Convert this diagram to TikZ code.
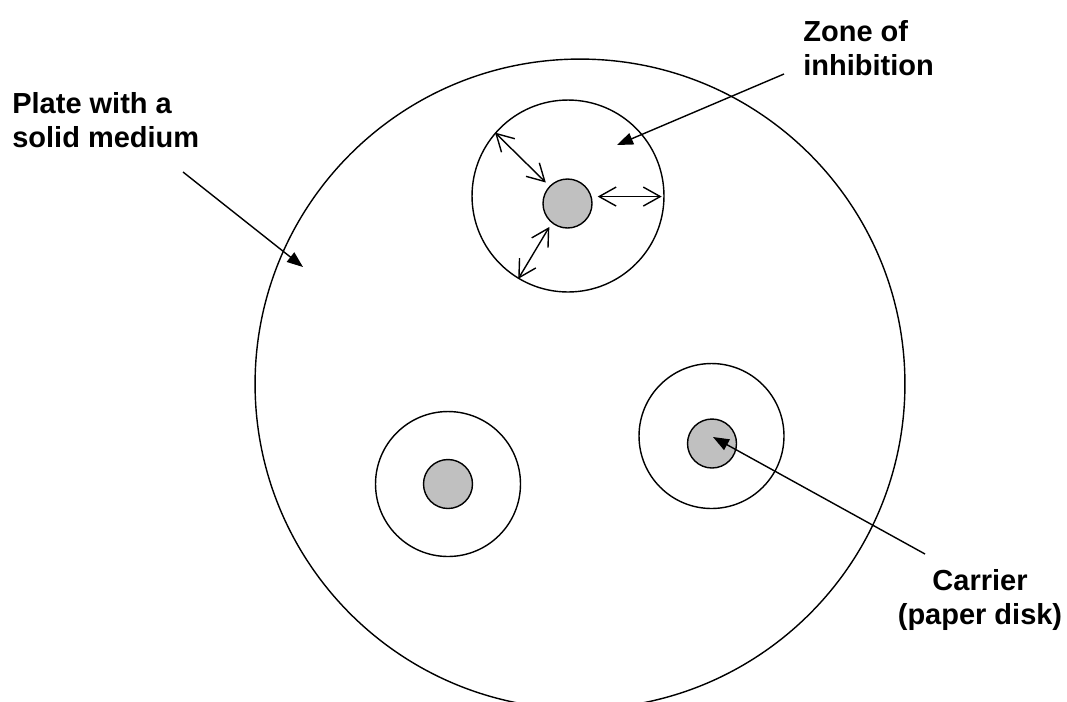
\documentclass[tikz,border=0pt]{standalone}
\usepackage{fontspec}
\setmainfont{Liberation Sans}
\usetikzlibrary{arrows.meta}
\definecolor{ink}{HTML}{000000}
\definecolor{diskgrey}{HTML}{C0C0C0}
\tikzset{
  plate/.style={draw=ink, line width=0.8pt, circle, inner sep=0pt, minimum size=13cm},
  zone/.style={draw=ink, line width=0.8pt, circle, inner sep=0pt, fill=white,
               minimum size=2.9cm},
  disk/.style={zone, fill=diskgrey, minimum size=0.98cm},
  caption/.style={font=\fontsize{16.5pt}{18.8pt}\selectfont\bfseries, text=ink,
                  inner sep=0pt},
  % filled head: a label pointing at a part of the plate
  pointer/.style={draw=ink, line width=0.8pt, -{Triangle[length=0.32cm,width=0.24cm]}},
  % open heads at both ends: the width of the zone
  spread/.style={draw=ink, line width=0.8pt,
                 {Straight Barb[length=0.34cm,width=0.38cm]}-{Straight Barb[length=0.34cm,width=0.38cm]}},
}

\begin{document}
\begin{tikzpicture}[x=0.02cm, y=-0.02cm]
  \useasboundingbox (0,0) rectangle (1067,701);
  \clip (0,0) rectangle (1067,701);

  % --- plate, zones and carriers -------------------------------------------
  \node[plate] (plate) at (580,384) {};
  \node[zone, minimum size=3.84cm] (zoneTop) at (568,196) {};
  \node[zone] (zoneLeft)  at (448,484) {};
  \node[zone] (zoneRight) at (711.5,436) {};
  \node[disk] (diskTop)   at (567.5,203.5) {};
  \node[disk] (diskLeft)  at (448,484) {};
  \node[disk] (diskRight) at (712,443.5) {};

  % --- reach of the zone round the top carrier ------------------------------
  \draw[spread, shorten <=0.1cm] (diskTop.136) -- (zoneTop.139);
  \draw[spread, shorten <=0.12cm, shorten >=0.06cm] (diskTop.16) -- (diskTop.16 -| zoneTop.east);
  \draw[spread, shorten <=0.09cm] (diskTop.231) -- (zoneTop.239);

  % --- labels (base = baseline of the last line) -----------------------------
  \node[caption, anchor=base west, align=left] (plateLabel) at (12,147) {Plate with a\\solid medium};
  \node[caption, anchor=base west, align=left] (zoneLabel) at (803,75) {Zone of\\inhibition};
  \node[caption, anchor=base, align=center] (carrierLabel) at (980,624) {Carrier\\(paper disk)};

  \coordinate (plateFrom)   at (183,172);
  \coordinate (plateTip)    at (303,267);
  \coordinate (zoneFrom)    at (784,74);
  \coordinate (zoneTip)     at (617,145);
  \coordinate (carrierFrom) at (925,554);
  \coordinate (carrierTip)  at (713,437);
  \draw[pointer] (plateFrom) -- (plateTip);
  \draw[pointer] (zoneFrom) -- (zoneTip);
  \draw[pointer] (carrierFrom) -- (carrierTip);

\end{tikzpicture}
\end{document}
